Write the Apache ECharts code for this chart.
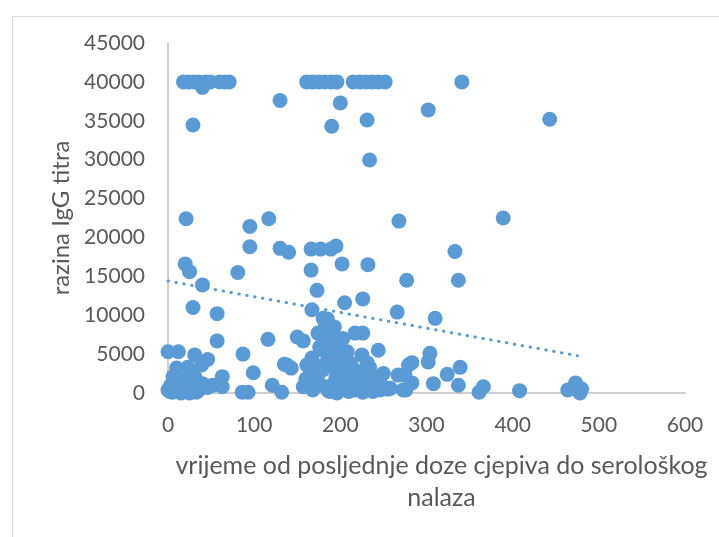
<!DOCTYPE html>
<html>
<head>
<meta charset="utf-8">
<script src="https://cdn.jsdelivr.net/npm/echarts@6/dist/echarts.min.js"></script>
<style>
  html, body { margin: 0; padding: 0; background: #fff; }
  #chart { width: 719px; height: 537px; }
</style>
</head>
<body>
<div id="chart"></div>
<script type="text/javascript">
// days since last dose (x) and IgG titre (y)
var days = [
  18, 24, 30, 36, 44, 49, 60, 66, 71, 40,
  161, 168, 175, 182, 189, 196, 215, 223, 230, 237, 244, 252, 341,
  130, 200, 302, 29, 190, 231, 234, 443,
  21, 95, 117, 95, 130, 140, 166, 177, 189, 195, 268, 389, 333,
  20, 25, 40, 81, 166, 202, 232, 277, 337,
  29, 57, 173, 205, 226, 167, 266, 310,
  180, 183, 185, 174, 190, 217, 226, 150, 157, 196, 57, 116,
  176, 178, 208, 225, 244, 199, 167, 231,
  0, 12, 31, 46, 87, 10, 23, 39, 6, 31, 63, 99, 135, 143, 138, 161,
  0, 8, 20, 35, 46, 63, 86, 93, 121, 132, 3, 14, 27, 40, 52, 5, 15, 25, 33,
  157, 168, 188, 208, 226, 246, 258, 223, 234, 267, 279, 216, 241, 255, 217, 196,
  283, 304, 302, 324, 339, 308, 337, 283, 273, 366, 361, 408, 464, 473, 480, 478, 275, 276,
  170, 175, 180, 185, 190, 195, 200, 205, 210, 215, 220, 230, 235, 240, 245, 250,
  182, 188, 192, 198, 203, 212, 178, 186, 200, 210, 220, 230, 238, 165, 172, 195,
  203, 185, 187, 193, 160, 250, 228, 8, 18, 28, 2
];
var titre = [
  40000, 40000, 40000, 40000, 40000, 40000, 40000, 40000, 40000, 39300,
  40000, 40000, 40000, 40000, 40000, 40000, 40000, 40000, 40000, 40000, 40000, 40000, 40000,
  37600, 37300, 36400, 34450, 34300, 35100, 29950, 35200,
  22400, 21400, 22400, 18800, 18600, 18100, 18500, 18500, 18500, 18900, 22100, 22500, 18200,
  16600, 15600, 13900, 15500, 15800, 16600, 16500, 14500, 14500,
  11000, 10200, 13200, 11600, 12100, 10700, 10400, 9600,
  9600, 8800, 8000, 7700, 7700, 7700, 7700, 7200, 6700, 6900, 6700, 6900,
  5900, 5600, 5300, 4900, 5500, 4100, 4500, 3900,
  5300, 5300, 4900, 4300, 5000, 3200, 3300, 3600, 2100, 2100, 2100, 2600, 3700, 3200, 3600, 3600,
  400, 300, 200, 300, 700, 800, 100, 100, 1000, 100, 1000, 1200, 600, 1200, 1000, 100, 0, 0, 100,
  800, 400, 200, 300, 100, 400, 600, 2600, 3300, 2300, 3600, 3000, 2100, 500, 400, 0,
  3900, 5100, 4000, 2400, 3300, 1200, 1000, 1300, 400, 800, 100, 300, 400, 1300, 500, 0, 2300, 400,
  1500, 2500, 3000, 4200, 1000, 2000, 3000, 1500, 2500, 1000, 1800, 1200, 600, 1000, 1500, 800,
  6500, 5000, 3500, 5500, 4500, 3800, 1000, 300, 700, 200, 500, 300, 200, 2200, 3500, 6200,
  7000, 9500, 7000, 8500, 1800, 2500, 1800, 2000, 1600, 2800, 200
];
// dotted linear trend, end points
var trendX = [0, 475];
var trendY = [14400, 4800];

var xTicks = ['0', '100', '200', '300', '400', '500', '600'];
var yTicks = ['0', '5000', '10000', '15000', '20000', '25000', '30000', '35000', '40000', '45000'];

var points = days.map(function (d, i) { return [d, titre[i]]; });
var trend = trendX.map(function (d, i) { return [d, trendY[i]]; });

var chart = echarts.init(document.getElementById('chart'));
var txt = '#595959';
var fam = 'Lato, "Noto Sans", sans-serif';

var option = {
  animation: false,
  grid: { left: 168, right: 34, top: 43, bottom: 144 },
  graphic: [{
    type: 'rect',
    left: 10, top: 14,
    shape: { width: 740, height: 560 },
    style: { fill: 'none', stroke: '#D9D9D9', lineWidth: 1 },
    silent: true
  }],
  xAxis: {
    type: 'value',
    min: 0, max: 600, interval: 100,
    name: 'vrijeme od posljednje doze cjepiva do serološkog\nnalaza',
    nameLocation: 'middle',
    nameGap: 57,
    nameTextStyle: { color: txt, fontSize: 25, fontFamily: fam, lineHeight: 32, padding: [0, 0, 0, 30] },
    axisLine: { show: true, lineStyle: { color: '#BFBFBF', width: 1.5 } },
    axisTick: { show: false },
    splitLine: { show: false },
    axisLabel: {
      color: txt, fontSize: 21, fontFamily: fam, margin: 22,
      formatter: function (v) { return xTicks[Math.round(v / 100)]; }
    }
  },
  yAxis: {
    type: 'value',
    min: 0, max: 45000, interval: 5000,
    name: 'razina IgG titra',
    nameLocation: 'middle',
    nameGap: 94,
    nameTextStyle: { color: txt, fontSize: 24, fontFamily: fam },
    axisLine: { show: true, lineStyle: { color: '#BFBFBF', width: 1.5 } },
    axisTick: { show: false },
    splitLine: { show: false },
    axisLabel: {
      color: txt, fontSize: 21, fontFamily: fam, margin: 23,
      formatter: function (v) { return yTicks[Math.round(v / 5000)]; }
    }
  },
  series: [{
    type: 'scatter',
    data: points,
    symbolSize: 15,
    itemStyle: { color: '#5B9BD5', opacity: 1 }
  }, {
    type: 'line',
    data: trend,
    symbol: 'none',
    z: 3,
    lineStyle: { color: '#5B9BD5', width: 3, type: [0.5, 7.5], cap: 'round' }
  }]
};

option && chart.setOption(option);
</script>
</body>
</html>
